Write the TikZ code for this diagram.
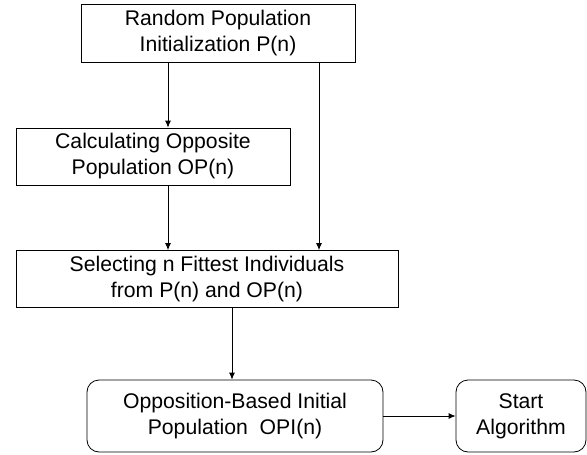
\documentclass[tikz,border=0pt]{standalone}
\usepackage{fontspec}
\setmainfont{Liberation Sans}
\usetikzlibrary{arrows.meta}
\begin{document}
\begin{tikzpicture}[x=1pt,y=-1pt,
  box/.style={draw, line width=0.8pt, align=center, inner sep=0pt,
    font=\fontsize{21.2}{26}\selectfont},
  rbox/.style={box, rounded corners=12pt},
  arr/.style={line width=0.8pt, -{Latex[length=7pt,width=6pt]}}]
\useasboundingbox (0,0) rectangle (587,455);
\node[box, minimum width=274pt, minimum height=58pt] (b1) at (218,33) {Random Population\\Initialization P(n)};
\node[box, minimum width=274pt, minimum height=57pt] (b2) at (153,156.5) {Calculating Opposite\\Population OP(n)};
\node[box, minimum width=382pt, minimum height=57pt] (b3) at (207,279) {Selecting n Fittest Individuals\\from P(n) and OP(n)};
\node[rbox, minimum width=296pt, minimum height=72pt] (b4) at (235,416) {Opposition-Based Initial\\Population\ \ OPI(n)};
\node[rbox, minimum width=130pt, minimum height=72pt] (b5) at (521,416) {Start\\Algorithm};
\draw[arr] (b1.south -| 168,0) -- (b2.north -| 168,0);
\draw[arr] (b1.south -| 319,0) -- (b3.north -| 319,0);
\draw[arr] (b2.south -| 168,0) -- (b3.north -| 168,0);
\draw[arr] (b3.south -| 232,0) -- (b4.north -| 232,0);
\draw[arr] (b4.east) -- (b5.west);
\end{tikzpicture}
\end{document}
